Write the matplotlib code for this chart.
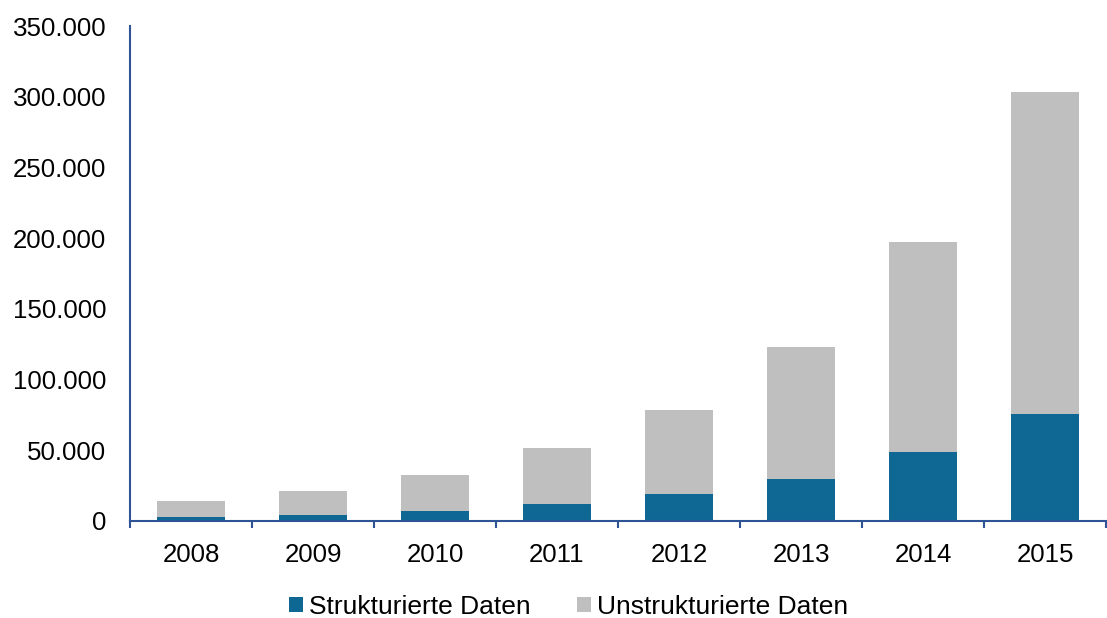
import matplotlib
matplotlib.use("Agg")
import matplotlib.pyplot as plt
from matplotlib.ticker import FuncFormatter, FixedLocator

years = ["2008", "2009", "2010", "2011", "2012", "2013", "2014", "2015"]
strukturiert = [2800, 4500, 7100, 12000, 18900, 29700, 48800, 75700]
gesamt = [14400, 21400, 32500, 51600, 78700, 123000, 197000, 303000]
unstrukturiert = [g - s for g, s in zip(gesamt, strukturiert)]
yticks = [0, 50000, 100000, 150000, 200000, 250000, 300000, 350000]

plt.rcParams['font.family'] = ['Liberation Sans', 'DejaVu Sans']

fig = plt.figure(figsize=(11.07, 6.18), dpi=100)
ax = fig.add_axes([130/1107, 1 - 521/618, 976/1107, 495/618])

blue = '#0F6794'
gray = '#BFBFBF'
axcol = '#2F5496'

x = list(range(len(years)))
ax.bar(x, strukturiert, width=0.55, color=blue, label='Strukturierte Daten', zorder=2)
ax.bar(x, unstrukturiert, width=0.55, bottom=strukturiert, color=gray,
       label='Unstrukturierte Daten', zorder=2)

ax.set_xlim(-0.5, len(years) - 0.5)
ax.set_ylim(0, 350000)
ax.set_yticks(yticks)
ax.yaxis.set_major_formatter(FuncFormatter(lambda v, p: f"{int(v):,}".replace(",", ".")))
ax.set_xticks(x)
ax.set_xticklabels(years)
ax.xaxis.set_minor_locator(FixedLocator([i - 0.5 for i in range(len(years) + 1)]))

for s in ['top', 'right']:
    ax.spines[s].set_visible(False)
for s in ['left', 'bottom']:
    ax.spines[s].set_color(axcol)
    ax.spines[s].set_linewidth(1.5)

ax.tick_params(axis='y', length=0, pad=17, labelsize=18.6, labelcolor='black')
ax.tick_params(axis='x', which='major', length=0, pad=16, labelsize=18.6, labelcolor='black')
ax.tick_params(axis='x', which='minor', length=5, width=1.5, color=axcol, direction='out')

fig.legend(loc='center', bbox_to_anchor=(568.5/1107, 1 - 607/618), ncol=2, frameon=False,
           fontsize=19, handlelength=0.53, handleheight=0.53, handletextpad=0.23,
           columnspacing=1.78)

fig.savefig('out.png', dpi=100)
